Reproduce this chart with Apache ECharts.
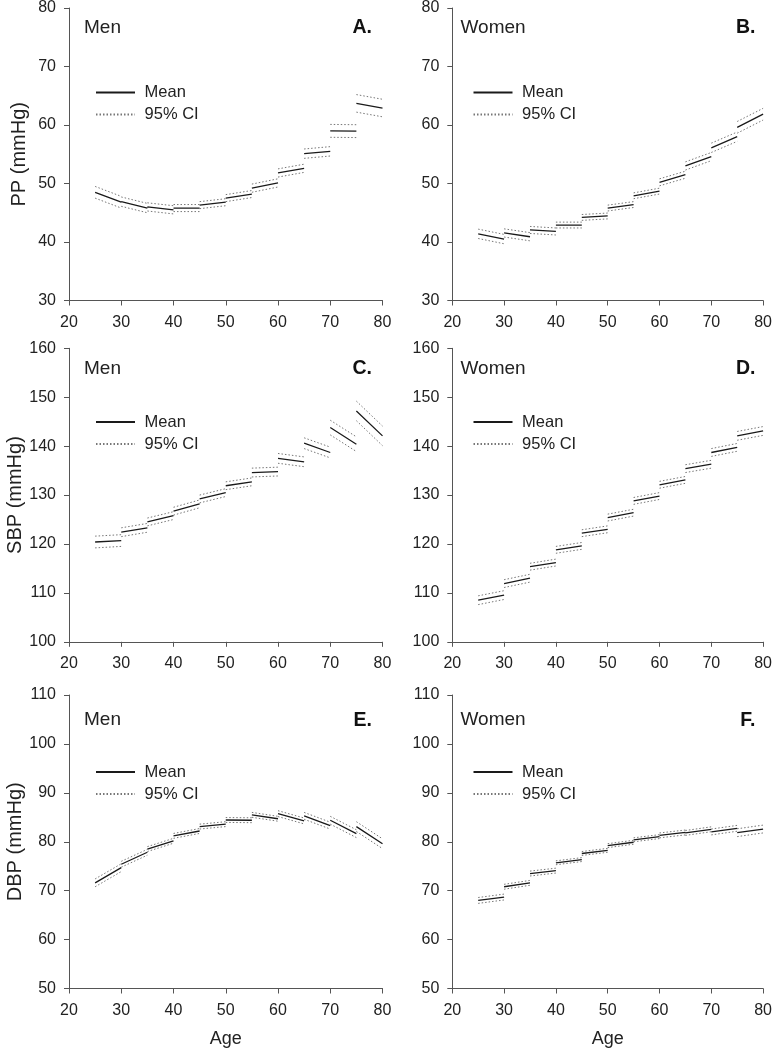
<!DOCTYPE html>
<html>
<head>
<meta charset="utf-8">
<script src="https://cdn.jsdelivr.net/npm/echarts@6/dist/echarts.min.js"></script>
<style>html,body{margin:0;padding:0;background:#fff}#c{width:775px;height:1050px}</style>
</head>
<body>
<div id="c"></div>
<script>
// Age segments: each 5-year band drawn from its start age to its end age
const segStart = [25, 30, 35, 40, 45, 50, 55, 60, 65, 70, 75];
const segEnd   = [30, 35, 40, 45, 50, 55, 60, 65, 70, 75, 80];
const xTicks = [20, 30, 40, 50, 60, 70, 80];

// A. PP, Men
const ppMenStart = [48.5, 46.9, 46.0, 45.8, 46.3, 47.5, 49.2, 51.8, 55.1, 59.0, 63.7];
const ppMenEnd   = [46.8, 45.8, 45.5, 45.8, 46.8, 48.2, 50.1, 52.6, 55.5, 58.95, 62.9];
const ppMenCI    = [1.0, 0.8, 0.7, 0.6, 0.6, 0.6, 0.7, 0.7, 0.8, 1.1, 1.5];
// B. PP, Women
const ppWomenStart = [41.4, 41.55, 42.06, 42.9, 44.2, 45.8, 47.9, 50.2, 53.0, 56.1, 59.6];
const ppWomenEnd   = [40.5, 40.9, 41.8, 42.9, 44.45, 46.4, 48.7, 51.5, 54.6, 58.0, 61.85];
const ppWomenCI    = [0.8, 0.7, 0.6, 0.5, 0.5, 0.5, 0.5, 0.6, 0.7, 0.8, 1.0];
// C. SBP, Men
const sbpMenStart = [120.4, 122.4, 124.5, 126.7, 129.2, 131.9, 134.6, 137.5, 140.6, 143.8, 147.2];
const sbpMenEnd   = [120.7, 123.3, 125.8, 128.2, 130.5, 132.7, 134.8, 136.8, 138.7, 140.4, 142.1];
const sbpMenCI    = [1.2, 0.9, 0.8, 0.8, 0.8, 0.8, 0.9, 1.0, 1.1, 1.5, 2.0];
// D. SBP, Women
const sbpWomenStart = [108.5, 111.9, 115.35, 118.8, 122.2, 125.4, 128.8, 132.1, 135.4, 138.7, 142.1];
const sbpWomenEnd   = [109.55, 113.0, 116.2, 119.6, 123.0, 126.4, 129.8, 133.1, 136.3, 139.75, 143.1];
const sbpWomenCI    = [0.9, 0.8, 0.7, 0.7, 0.7, 0.7, 0.7, 0.7, 0.8, 0.8, 0.9];
// E. DBP, Men
const dbpMenStart = [71.6, 75.4, 78.5, 81.2, 83.1, 84.45, 85.5, 85.75, 85.3, 84.4, 83.1];
const dbpMenEnd   = [74.7, 77.85, 80.2, 82.2, 83.6, 84.4, 84.7, 84.25, 83.3, 81.65, 79.6];
const dbpMenCI    = [0.8, 0.6, 0.5, 0.5, 0.5, 0.5, 0.5, 0.6, 0.7, 0.8, 1.0];
// F. DBP, Women
const dbpWomenStart = [68.0, 70.8, 73.5, 75.7, 77.6, 79.2, 80.4, 81.3, 81.8, 82.0, 81.85];
const dbpWomenEnd   = [68.7, 71.6, 74.1, 76.35, 78.25, 79.9, 81.05, 81.9, 82.55, 82.75, 82.6];
const dbpWomenCI    = [0.6, 0.5, 0.5, 0.4, 0.4, 0.4, 0.4, 0.5, 0.5, 0.6, 0.8];

const panelLetters = ['A.', 'B.', 'C.', 'D.', 'E.', 'F.'];
const sexLabels = ['Men', 'Women'];
const yNames = ['PP (mmHg)', 'SBP (mmHg)', 'DBP (mmHg)'];
const yRanges = [[30, 80], [100, 160], [50, 110]];
const xName = 'Age';
const legendNames = ['Mean', '95% CI'];

const panels = [
  [ppMenStart, ppMenEnd, ppMenCI],
  [ppWomenStart, ppWomenEnd, ppWomenCI],
  [sbpMenStart, sbpMenEnd, sbpMenCI],
  [sbpWomenStart, sbpWomenEnd, sbpWomenCI],
  [dbpMenStart, dbpMenEnd, dbpMenCI],
  [dbpWomenStart, dbpWomenEnd, dbpWomenCI]
];

// layout
const gridLeft = [69, 452.3];
const gridWidth = 313.5;
const gridTop = [7, 348.3, 695];
const gridHeight = 293.5;
const FONT = '"Liberation Sans", Arial, sans-serif';
const AXIS_COLOR = '#555';
const TEXT_COLOR = '#222';

function meanData(s, e) {
  const d = [];
  for (let i = 0; i < segStart.length; i++) {
    d.push([segStart[i], s[i]], [segEnd[i], e[i]], [segEnd[i], null]);
  }
  return d;
}
function ciData(s, e, h) {
  const d = [];
  for (let i = 0; i < segStart.length; i++) {
    d.push([segStart[i], s[i] + h[i]], [segEnd[i], e[i] + h[i]], [segEnd[i], null]);
    d.push([segStart[i], s[i] - h[i]], [segEnd[i], e[i] - h[i]], [segEnd[i], null]);
  }
  return d;
}

const grids = [], xAxes = [], yAxes = [], series = [], titles = [], legends = [];
const legendTops = [84, 413.5, 763.5];
const labelTops = [18, 359, 710.5];

for (let p = 0; p < 6; p++) {
  const row = Math.floor(p / 2), col = p % 2;
  grids.push({ left: gridLeft[col], top: gridTop[row], width: gridWidth, height: gridHeight });
  xAxes.push({
    type: 'value', gridIndex: p, min: xTicks[0], max: xTicks[xTicks.length - 1], interval: 10,
    name: row === 2 ? xName : '', nameLocation: 'middle', nameGap: 42,
    nameTextStyle: { fontFamily: FONT, fontSize: 18, color: TEXT_COLOR },
    axisLine: { lineStyle: { color: AXIS_COLOR, width: 1 } },
    axisTick: { show: true, length: 5, lineStyle: { color: AXIS_COLOR } },
    axisLabel: { fontFamily: FONT, fontSize: 16, color: TEXT_COLOR, margin: 14 },
    splitLine: { show: false }
  });
  yAxes.push({
    type: 'value', gridIndex: p, min: yRanges[row][0], max: yRanges[row][1], interval: 10,
    name: col === 0 ? yNames[row] : '', nameLocation: 'middle', nameGap: 40, nameRotate: 90,
    nameTextStyle: { fontFamily: FONT, fontSize: 20, color: TEXT_COLOR },
    axisLine: { show: true, lineStyle: { color: AXIS_COLOR, width: 1 } },
    axisTick: { show: true, length: 5, lineStyle: { color: AXIS_COLOR } },
    axisLabel: { fontFamily: FONT, fontSize: 16, color: TEXT_COLOR, margin: 13 },
    splitLine: { show: false }
  });
  const [s, e, h] = panels[p];
  series.push({
    name: legendNames[1], type: 'line', xAxisIndex: p, yAxisIndex: p,
    data: ciData(s, e, h), symbol: 'none', connectNulls: false, silent: true,
    lineStyle: { color: '#777', width: 1, type: [1.5, 2] }, itemStyle: { color: '#777' }
  });
  series.push({
    name: legendNames[0], type: 'line', xAxisIndex: p, yAxisIndex: p,
    data: meanData(s, e), symbol: 'none', connectNulls: false, silent: true,
    lineStyle: { color: '#1a1a1a', width: 1.3 }, itemStyle: { color: '#1a1a1a' }
  });
  titles.push({
    text: sexLabels[col], left: col === 0 ? 84 : 460.5, top: labelTops[row],
    textStyle: { fontFamily: FONT, fontSize: 19, fontWeight: 'normal', color: TEXT_COLOR }, padding: 0
  });
  titles.push({
    text: panelLetters[p], right: col === 0 ? 775 - 372 : 775 - 755.5, top: labelTops[row],
    textStyle: { fontFamily: FONT, fontSize: 19.5, fontWeight: 'bold', color: '#111' }, padding: 0
  });
  legends.push({
    orient: 'vertical', left: col === 0 ? 95 : 472.5, top: legendTops[row],
    data: legendNames, itemWidth: 39, itemHeight: 16, itemGap: 5, padding: 0,
    formatter: ' {name}', selectedMode: false,
    itemStyle: { color: 'transparent', opacity: 0, borderWidth: 0 },
    textStyle: { fontFamily: FONT, fontSize: 16.5, color: TEXT_COLOR }
  });
}

const chart = echarts.init(document.getElementById('c'), null, { renderer: 'canvas' });
chart.setOption({
  backgroundColor: '#fff',
  animation: false,
  title: titles,
  legend: legends,
  grid: grids,
  xAxis: xAxes,
  yAxis: yAxes,
  series: series
});
</script>
</body>
</html>
